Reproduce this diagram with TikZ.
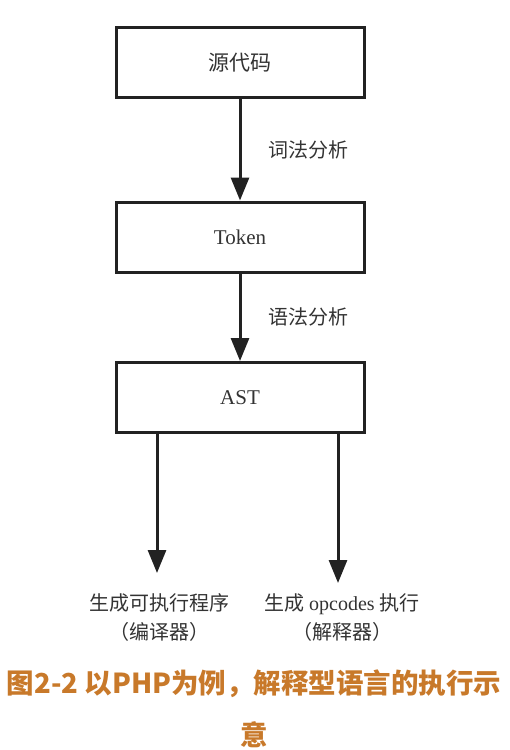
\documentclass[tikz,border=0pt]{standalone}
\usepackage{fontspec}
\setmainfont{Liberation Serif}
\newfontfamily\cjk{Noto Sans CJK SC}
\usetikzlibrary{arrows.meta}
\definecolor{boxline}{HTML}{222222}
\definecolor{labeltext}{HTML}{333333}
\definecolor{captionorange}{HTML}{C8792A}

\begin{document}
\begin{tikzpicture}[x=1pt, y=-1pt,
  stagebox/.style={draw=boxline, line width=3pt, minimum width=248pt,
    minimum height=70pt, inner sep=0pt, text=labeltext,
    font=\fontsize{21}{25}\selectfont},
  flow/.style={draw=boxline, line width=3pt,
    -{Triangle[length=23pt, width=18pt]}},
  steplabel/.style={text=labeltext, font=\cjk\fontsize{20}{29}\selectfont},
  ]
\useasboundingbox (0,0) rectangle (509,750);
% the three stages, top to bottom
\foreach \name/\y/\txt in {src/62.5/{\cjk 源代码}, tok/237/Token, ast/397.5/AST}
  \node[stagebox] (\name) at (240,\y) {\txt};
% analysis steps between the stages
\draw[flow] (src) -- node[steplabel, right=24pt] (lex) {词法分析} (tok);
\draw[flow] (tok) -- node[steplabel, right=24pt] (parse) {语法分析} (ast);
% two ways out of the AST
\coordinate (cmpend) at (157,573);
\coordinate (intend) at (338,583);
\draw[flow] (ast.south -| cmpend) -- (cmpend);
\draw[flow] (ast.south -| intend) -- (intend);
\node[steplabel, align=center] (cmp) at (159,618) {生成可执行程序\\（编译器）};
\node[steplabel, align=center] (int) at (342,618) {生成 {\rmfamily opcodes} 执行\\（解释器）};
% caption
\node[text=captionorange, align=center, font=\cjk\bfseries\fontsize{27.5}{52}\selectfont]
  (caption) at (254,709) {图2-2 以PHP为例，解释型语言的执行示\\意};
\end{tikzpicture}
\end{document}
